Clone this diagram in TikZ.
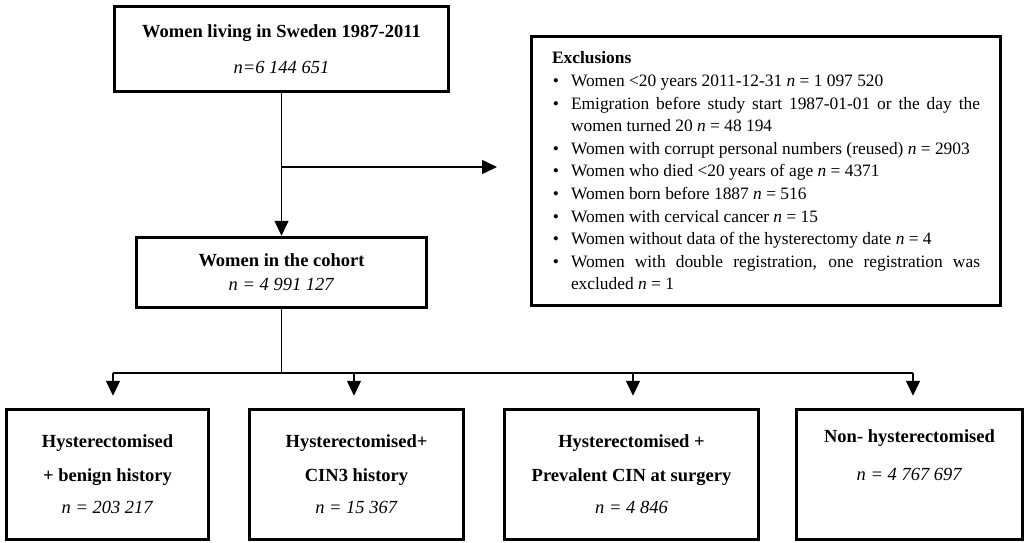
\documentclass[tikz,border=0pt]{standalone}
\usepackage{fontspec}
\setmainfont{Liberation Serif}
\usepackage{enumitem}
\usetikzlibrary{arrows.meta}

\tikzset{
  box/.style={draw, line width=3.5pt, inner sep=0pt, align=center,
    font=\fontsize{18.5}{22}\selectfont},
  arr/.style={line width=1.5pt, -{Triangle[length=15pt,width=14pt]}},
  conn/.style={line width=1.5pt}
}

\begin{document}
\begin{tikzpicture}[x=1pt,y=-1pt]
        \useasboundingbox (0,0) rectangle (1026,542);

        \begin{scope}[every node/.style={box}]
          \node[minimum width=334pt, minimum height=85pt] (living) at (281.5,49)
            {\textbf{Women living in Sweden 1987-2011}\\[14pt]\textit{n=6 144 651}};
          \node[minimum width=290pt, minimum height=70pt] (cohort) at (281.5,272.5)
            {\textbf{Women in the cohort}\\[2pt]\textit{n = 4 991 127}};
          \node[minimum width=202pt, minimum height=130pt] (benign) at (107.5,474.5)
            {\textbf{Hysterectomised}\\[12pt]\textbf{+ benign history}\\[10pt]\textit{n = 203 217}};
          \node[minimum width=214pt, minimum height=130pt] (cin3) at (356.5,474.5)
            {\textbf{Hysterectomised+}\\[12pt]\textbf{CIN3 history}\\[10pt]\textit{n = 15 367}};
          \node[minimum width=254pt, minimum height=130pt] (prev) at (631.5,474.5)
            {\textbf{Hysterectomised +}\\[12pt]\textbf{Prevalent CIN at surgery}\\[10pt]\textit{n = 4 846}};
          \node[minimum width=226pt, minimum height=130pt] (nonhyst) at (909.5,474.5)
            {\textbf{Non- hysterectomised}\\[16pt]\textit{n = 4 767 697}\\[10pt]\strut};
          \node[minimum width=469pt, minimum height=269pt, text width=428pt, align=justify,
                font=\fontsize{17.4}{22.6}\selectfont] (excl) at (766,171)
            {\hyphenpenalty=10000\exhyphenpenalty=10000\relax
             \textbf{Exclusions}
             \begin{itemize}[leftmargin=19pt,labelsep=12pt,itemsep=0pt,parsep=0pt,topsep=0pt,partopsep=0pt]
               \item Women <20 years 2011-12-31 \textit{n} = 1 097 520
               \item Emigration before study start 1987-01-01 or the day the women turned 20 \textit{n} = 48 194
               \item Women with corrupt personal numbers (reused) \textit{n} = 2903
               \item Women who died <20 years of age \textit{n} = 4371
               \item Women born before 1887 \textit{n} = 516
               \item Women with cervical cancer \textit{n} = 15
               \item Women without data of the hysterectomy date \textit{n} = 4
               \item Women with double registration, one registration was excluded \textit{n} = 1
             \end{itemize}};
        \end{scope}

        % branch points
        \coordinate (split) at (281.5,167);
        \coordinate (exclin) at (497,167);
        \coordinate (fork) at (281.5,373);
        \coordinate (t1) at (113,373);
        \coordinate (t2) at (354,373);
        \coordinate (t3) at (633,373);
        \coordinate (t4) at (913,373);

        \draw[arr] (living) -- (cohort);
        \draw[arr] (split) -- (exclin);
        \draw[conn] (cohort) -- (fork);
        \draw[conn] (t1) -- (t4);
        \draw[arr, shorten >=12pt] (t1) -- (t1 |- benign.north);
        \draw[arr, shorten >=12pt] (t2) -- (t2 |- cin3.north);
        \draw[arr, shorten >=12pt] (t3) -- (t3 |- prev.north);
        \draw[arr, shorten >=12pt] (t4) -- (t4 |- nonhyst.north);

      \end{tikzpicture}
\end{document}
